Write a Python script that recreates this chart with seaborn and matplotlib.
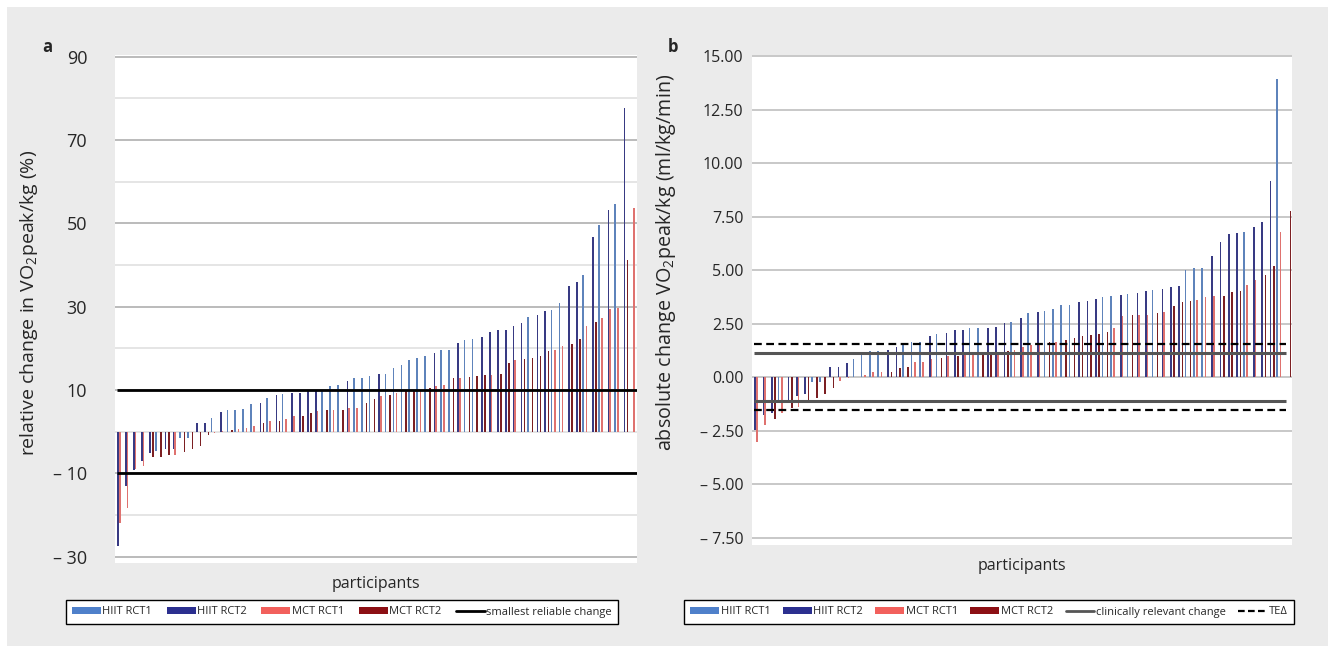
import matplotlib
matplotlib.use('Agg')
import matplotlib.pyplot as plt
import seaborn as sns
import pandas as pd
from matplotlib.patches import Patch, Rectangle
from matplotlib.lines import Line2D

# group names and colours
series = ['HIIT RCT1', 'HIIT RCT2', 'MCT RCT1', 'MCT RCT2']
colors = ['#4F80CA', '#2B2F8F', '#F2605C', '#8C0F14']

# panel a: relative change (%), HIIT and MCT sorted, group 1 = RCT1, 2 = RCT2
a_hiit = [-27.5, -13.0, -9.3, -7.1, -5.1, -4.7, -4.2, -4.1, -1.4, -1.4,
          2.2, 2.2, 3.3, 4.7, 5.1, 5.3, 5.4, 6.6, 6.9, 8.1,
          8.8, 9.0, 9.3, 9.3, 9.7, 9.7, 9.7, 10.9, 11.3, 12.2,
          12.9, 12.9, 13.3, 13.8, 13.8, 15.3, 16.1, 17.3, 17.7, 18.2,
          18.9, 19.7, 19.7, 21.3, 22.1, 22.3, 22.7, 23.9, 24.3, 24.3,
          25.4, 26.1, 27.5, 27.9, 28.9, 29.1, 31.0, 35.0, 35.9, 37.7,
          46.7, 49.5, 53.3, 54.6, 77.8]
a_hiit_grp = [2, 2, 2, 2, 2, 1, 2, 2, 1, 1, 2, 2, 1, 2, 1, 1, 1, 1, 2, 1,
              2, 1, 2, 2, 2, 2, 1, 1, 1, 2, 1, 1, 1, 2, 1, 1, 1, 1, 1, 1,
              2, 1, 1, 2, 1, 1, 2, 2, 2, 2, 2, 2, 1, 2, 2, 1, 1, 2, 2, 1,
              2, 1, 2, 1, 2]
a_mct = [-21.9, -18.3, -9.0, -8.3, -6.1, -6.1, -5.5, -5.5, -4.9, -4.2,
         -3.4, -0.7, -0.2, 0.2, 0.3, 0.6, 0.9, 1.4, 2.1, 2.6,
         2.6, 3.1, 3.7, 3.8, 4.6, 4.9, 5.1, 5.3, 5.3, 5.7,
         5.8, 6.9, 7.8, 8.5, 8.9, 9.2, 9.7, 9.7, 9.7, 10.5,
         10.9, 11.3, 12.9, 12.9, 13.1, 13.4, 13.7, 13.7, 13.9, 16.6,
         17.1, 17.5, 17.7, 18.2, 19.4, 19.7, 20.6, 21.1, 22.3, 25.3,
         26.3, 27.4, 29.4, 29.7, 41.1, 53.7]
a_mct_grp = [1, 1, 1, 1, 2, 2, 2, 1, 2, 2, 2, 2, 1, 1, 2, 1, 1, 1, 2, 1,
             2, 1, 1, 2, 2, 1, 2, 1, 2, 1, 1, 2, 2, 1, 2, 1, 2, 2, 1, 2,
             1, 1, 2, 1, 2, 2, 2, 1, 2, 2, 1, 2, 2, 2, 2, 1, 1, 2, 2, 1,
             2, 1, 1, 1, 2, 1]

# panel b: absolute change (ml/kg/min)
b_hiit = [-2.48, -1.78, -1.70, -1.23, -1.16, -0.89, -0.77, -0.22, -0.22, 0.48,
          0.48, 0.64, 0.83, 1.03, 1.22, 1.22, 1.27, 1.39, 1.50, 1.66,
          1.66, 1.92, 2.00, 2.05, 2.20, 2.20, 2.28, 2.28, 2.30, 2.33,
          2.52, 2.56, 2.75, 2.98, 3.03, 3.09, 3.19, 3.38, 3.38, 3.50,
          3.56, 3.67, 3.72, 3.80, 3.84, 3.89, 3.95, 4.03, 4.08, 4.11,
          4.23, 4.27, 5.02, 5.08, 5.08, 5.64, 6.33, 6.70, 6.73, 6.78,
          7.00, 7.23, 9.16, 13.92]
b_hiit_grp = [2, 2, 2, 1, 2, 2, 2, 1, 1, 2, 2, 2, 1, 1, 1, 1, 2, 2, 1, 1,
              1, 2, 1, 2, 2, 2, 1, 1, 2, 2, 2, 1, 2, 1, 2, 1, 1, 1, 1, 2,
              2, 2, 1, 1, 2, 1, 2, 2, 1, 2, 2, 2, 1, 1, 1, 2, 2, 2, 2, 1,
              2, 2, 2, 1]
b_mct = [-3.03, -2.22, -1.98, -1.70, -1.44, -1.39, -1.23, -1.00, -0.77, -0.53,
         -0.20, -0.05, 0.02, 0.09, 0.22, 0.22, 0.25, 0.41, 0.45, 0.70,
         0.70, 0.83, 0.88, 0.98, 0.98, 1.03, 1.03, 1.08, 1.10, 1.15,
         1.22, 1.27, 1.40, 1.50, 1.58, 1.66, 1.66, 1.73, 1.84, 1.92,
         1.97, 2.00, 2.09, 2.28, 2.83, 2.91, 2.91, 2.91, 2.98, 3.06,
         3.30, 3.50, 3.56, 3.61, 3.72, 3.80, 3.80, 3.97, 4.00, 4.28,
         4.52, 4.78, 5.17, 6.78, 7.78]
b_mct_grp = [1, 1, 2, 1, 2, 1, 2, 2, 2, 2, 1, 1, 2, 1, 1, 1, 2, 2, 2, 1,
             1, 1, 2, 1, 2, 1, 1, 2, 2, 1, 2, 1, 1, 1, 1, 2, 1, 2, 2, 2,
             2, 2, 2, 1, 1, 2, 1, 1, 2, 1, 2, 2, 2, 1, 1, 1, 2, 2, 2, 1,
             1, 2, 2, 1, 2]

a_ticks = [-30, -10, 10, 30, 50, 70, 90]
a_ticklabels = ['\u2013 30', '\u2013 10', '10', '30', '50', '70', '90']
a_minor = [-20, 0, 20, 40, 60, 80]
a_src = 10

b_ticks = [-7.5, -5, -2.5, 0, 2.5, 5, 7.5, 10, 12.5, 15]
b_ticklabels = ['\u2013 7.50', '\u2013 5.00', '\u2013 2.50', '0.00', '2.50',
                '5.00', '7.50', '10.00', '12.50', '15.00']
b_clin = 1.1
b_te = 1.55


def make_df(hiit, hiit_grp, mct, mct_grp):
    rows = []
    for i, (v, g) in enumerate(zip(hiit, hiit_grp)):
        rows.append((i, v, series[g - 1]))
    for i, (v, g) in enumerate(zip(mct, mct_grp)):
        rows.append((i, v, series[g + 1]))
    return pd.DataFrame(rows, columns=['participant', 'change', 'group'])


sns.set_style('white')
plt.rcParams['font.family'] = ['Open Sans', 'DejaVu Sans']
plt.rcParams['mathtext.fontset'] = 'custom'
plt.rcParams['mathtext.rm'] = 'Open Sans'
plt.rcParams['mathtext.it'] = 'Open Sans'

W, H = 1335, 653
fig = plt.figure(figsize=(W / 100, H / 100), dpi=100)
fig.patch.set_facecolor('white')
fig.patches.append(Rectangle((7 / W, 7 / H), 1 - 14 / W, 1 - 14 / H, transform=fig.transFigure,
                             facecolor='#EBEBEB', edgecolor='none', zorder=-10))


def box(l, t, r, b):
    return [l / W, 1 - b / H, (r - l) / W, (b - t) / H]


ax_a = fig.add_axes(box(115, 55, 637, 563))
ax_b = fig.add_axes(box(752, 55, 1292, 545))

for ax, hiit, hg, mct, mg in [(ax_a, a_hiit, a_hiit_grp, a_mct, a_mct_grp),
                              (ax_b, b_hiit, b_hiit_grp, b_mct, b_mct_grp)]:
    df = make_df(hiit, hg, mct, mg)
    n = max(len(hiit), len(mct))
    sns.barplot(data=df, x='participant', y='change', hue='group', hue_order=series,
                palette=colors, order=list(range(n)), dodge=True, width=0.8,
                errorbar=None, linewidth=0, ax=ax, legend=False)
    ax.set_xlim(-0.5, n - 0.5)
    ax.set_facecolor('white')
    for s in ax.spines.values():
        s.set_visible(False)
    ax.set_xticks([])
    ax.set_xlabel('participants', fontsize=11.5, labelpad=9)
    ax.set_axisbelow(True)

# panel a
n_a = len(a_mct)
ax_a.set_ylim(-31.5, 90.4)
ax_a.set_yticks(a_ticks)
ax_a.set_yticklabels(a_ticklabels)
ax_a.set_yticks(a_minor, minor=True)
ax_a.yaxis.grid(True, which='major', color='#B5B5B5', lw=1.3)
ax_a.yaxis.grid(True, which='minor', color='#E3E3E3', lw=1.3)
ax_a.tick_params(axis='y', which='major', length=3, color='#444444', pad=17, labelsize=13)
ax_a.tick_params(axis='y', which='minor', length=0)
ax_a.hlines([a_src, -a_src], -0.2, n_a - 0.5, color='black', lw=2, zorder=3)
ax_a.set_ylabel('relative change in VO$_2$peak/kg (%)', fontsize=14)
ax_a.yaxis.set_label_coords(-(115 - 40) / 522, (563 - 303) / 508)

# panel b
n_b = len(b_mct)
ax_b.set_ylim(-7.85, 15.05)
ax_b.set_yticks(b_ticks)
ax_b.set_yticklabels(b_ticklabels)
ax_b.yaxis.grid(True, color='#C4C4C4', lw=1.3)
ax_b.tick_params(axis='y', length=0, pad=6, labelsize=11.5)
ax_b.hlines([b_clin, -b_clin], -0.3, n_b - 1.2, color='#555555', lw=2.2, zorder=3)
ax_b.hlines([b_te, -b_te], -0.3, n_b - 1.2, color='black', lw=1.6,
            linestyles=(0, (3.5, 2)), zorder=3)
ax_b.set_ylabel('absolute change VO$_2$peak/kg (ml/kg/min)', fontsize=14.2)
ax_b.yaxis.set_label_coords(-(752 - 678) / 540, (545 - 262) / 490)

fig.text(47 / W, 1 - 47 / H, 'a', fontsize=12, fontweight='bold', ha='center', va='center')
fig.text(673 / W, 1 - 47 / H, 'b', fontsize=12, fontweight='bold', ha='center', va='center')

bar_handles = [Patch(facecolor=c, edgecolor='none', label=s) for s, c in zip(series, colors)]
leg_kw = dict(loc='center', fontsize=8, frameon=True, fancybox=False,
              handlelength=2.6, handleheight=0.55, handletextpad=0.15,
              columnspacing=1.3, borderpad=0.55, framealpha=1)

h_a = bar_handles + [Line2D([], [], color='black', lw=2, label='smallest reliable change')]
leg_a = fig.legend(handles=h_a, ncol=5, bbox_to_anchor=(342 / W, 1 - 612 / H), **leg_kw)
h_b = bar_handles + [Line2D([], [], color='#555555', lw=2, label='clinically relevant change'),
                     Line2D([], [], color='black', lw=1.6, ls=(0, (3, 1.5)), label='TE\u0394')]
leg_kw_b = dict(leg_kw, columnspacing=1.1)
leg_b = fig.legend(handles=h_b, ncol=6, bbox_to_anchor=(989 / W, 1 - 612 / H), **leg_kw_b)
for leg in (leg_a, leg_b):
    leg.get_frame().set_edgecolor('black')
    leg.get_frame().set_linewidth(1)
    leg.get_frame().set_boxstyle('square', pad=0)

fig.savefig('out.png', dpi=100, facecolor=fig.get_facecolor())
